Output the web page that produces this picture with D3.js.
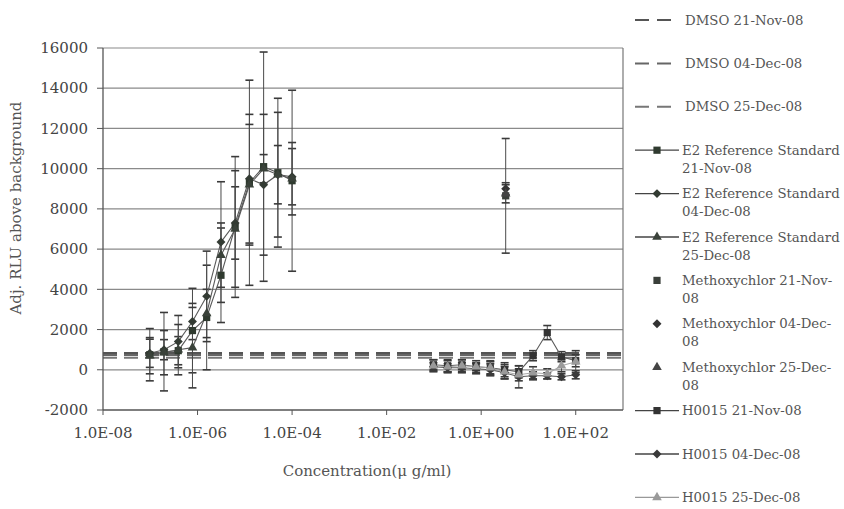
<!DOCTYPE html>
<html>
<head>
<meta charset="utf-8">
<style>
    body { margin: 0; background: #fff; }
    svg { display: block; font-family: 'DejaVu Serif', serif; }
    .tick-label { font-size: 15px; fill: #444; }
    .axis-title { font-size: 15px; fill: #555; }
    .legend-text { font-size: 13.3px; fill: #555; }
</style>
</head>
<body>
<svg width="844" height="509"></svg>

<script src="https://d3js.org/d3.v7.min.js"></script>
<script>
    // ---- data ----
    let xTickValues = [1e-8, 1e-6, 1e-4, 1e-2, 1, 1e2];
    let xTickLabels = ["1.0E-08", "1.0E-06", "1.0E-04", "1.0E-02", "1.0E+00", "1.0E+02"];
    let yTickValues = [-2000, 0, 2000, 4000, 6000, 8000, 10000, 12000, 14000, 16000];
    let yTickLabels = ["-2000", "0", "2000", "4000", "6000", "8000", "10000", "12000", "14000", "16000"];

    // DMSO control levels (flat dashed lines)
    let dmsoNames = ["DMSO 21-Nov-08", "DMSO 04-Dec-08", "DMSO 25-Dec-08"];
    let dmsoValues = [830, 740, 600];

    // E2 reference standard, 2-fold dilutions
    let e2Conc = [9.77e-8, 1.95e-7, 3.91e-7, 7.81e-7, 1.56e-6, 3.13e-6, 6.25e-6, 1.25e-5, 2.5e-5, 5e-5, 1e-4];
    let e2Nov = [750, 900, 950, 1950, 2600, 4700, 7100, 9300, 10100, 9800, 9400];
    let e2NovSd = [1300, 1950, 700, 2100, 2600, 2350, 3500, 5100, 5700, 3700, 4500];
    let e2Dec04 = [820, 1000, 1400, 2400, 3650, 6350, 7300, 9500, 9200, 9700, 9600];
    let e2Dec04Sd = [700, 500, 1300, 900, 2250, 3000, 1800, 3200, 3500, 3100, 1400];
    let e2Dec25 = [700, 850, 1000, 1100, 2800, 5700, 7000, 9200, 10000, 9700, 9500];
    let e2Dec25Sd = [900, 1100, 1250, 2000, 1200, 1600, 2900, 3000, 700, 1450, 1800];

    // Methoxychlor, single concentration
    let mxcConc = [3.3];
    let mxcNov = [8650];
    let mxcNovSd = [2850];
    let mxcDec04 = [9000];
    let mxcDec04Sd = [300];
    let mxcDec25 = [8750];
    let mxcDec25Sd = [450];

    // H0015, 2-fold dilutions
    let hConc = [0.0977, 0.195, 0.391, 0.781, 1.56, 3.13, 6.25, 12.5, 25, 50, 100];
    let hNov = [250, 200, 250, 150, 100, 0, -100, 700, 1850, 650, 450];
    let hNovSd = [250, 300, 250, 200, 300, 350, 300, 250, 350, 250, 300];
    let hDec04 = [150, 100, 100, 50, 0, -150, -350, -300, -300, -350, -250];
    let hDec04Sd = [200, 200, 250, 250, 300, 300, 550, 200, 150, 150, 200];
    let hDec25 = [200, 150, 200, 150, 100, -100, -250, -150, -200, 200, 400];
    let hDec25Sd = [300, 300, 300, 300, 350, 350, 300, 300, 250, 300, 550];

    // rhombus-like diamond (square turned 45 degrees)
    let diamond = {
        draw(ctx, size) {
            let r = Math.sqrt(size / 2);
            ctx.moveTo(0, -r); ctx.lineTo(r, 0); ctx.lineTo(0, r); ctx.lineTo(-r, 0); ctx.closePath();
        }
    };

    let series = [
        { name: "E2 Reference Standard\n21-Nov-08", conc: e2Conc, val: e2Nov, sd: e2NovSd, sym: d3.symbolSquare, size: 52, color: "#2f3a2f", line: true },
        { name: "E2 Reference Standard\n04-Dec-08", conc: e2Conc, val: e2Dec04, sd: e2Dec04Sd, sym: diamond, size: 40, color: "#333b33", line: true },
        { name: "E2 Reference Standard\n25-Dec-08", conc: e2Conc, val: e2Dec25, sd: e2Dec25Sd, sym: d3.symbolTriangle, size: 40, color: "#3a423a", line: true },
        { name: "Methoxychlor 21-Nov-\n08", conc: mxcConc, val: mxcNov, sd: mxcNovSd, sym: d3.symbolSquare, size: 52, color: "#3a3f3a", line: false },
        { name: "Methoxychlor 04-Dec-\n08", conc: mxcConc, val: mxcDec04, sd: mxcDec04Sd, sym: diamond, size: 40, color: "#333", line: false },
        { name: "Methoxychlor 25-Dec-\n08", conc: mxcConc, val: mxcDec25, sd: mxcDec25Sd, sym: d3.symbolTriangle, size: 40, color: "#444", line: false },
        { name: "H0015 21-Nov-08", conc: hConc, val: hNov, sd: hNovSd, sym: d3.symbolSquare, size: 52, color: "#333", line: true },
        { name: "H0015 04-Dec-08", conc: hConc, val: hDec04, sd: hDec04Sd, sym: diamond, size: 40, color: "#3a3a3a", line: true },
        { name: "H0015 25-Dec-08", conc: hConc, val: hDec25, sd: hDec25Sd, sym: d3.symbolTriangle, size: 40, color: "#9a9a9a", line: true }
    ];

    // ---- layout ----
    let svg = d3.select("svg");
    let plotLeft = 103, plotRight = 623, plotTop = 48, plotBottom = 410;

    let x = d3.scaleLog().domain([1e-8, 1e3]).range([plotLeft, plotRight]);
    let y = d3.scaleLinear().domain([-2000, 16000]).range([plotBottom, plotTop]);

    // gridlines
    svg.append("g")
        .selectAll("line")
        .data(yTickValues.slice(1))
        .join("line")
        .attr("x1", plotLeft).attr("x2", plotRight)
        .attr("y1", d => y(d)).attr("y2", d => y(d))
        .style("stroke", "#8a8a8a")
        .style("stroke-width", 1.2);

    // right border
    svg.append("line")
        .attr("x1", plotRight).attr("x2", plotRight)
        .attr("y1", plotTop).attr("y2", plotBottom)
        .style("stroke", "#777")
        .style("stroke-width", 1.2);

    // DMSO lines
    let dmsoColors = ["#555", "#666", "#777"];
    svg.append("g")
        .selectAll("line")
        .data(dmsoValues)
        .join("line")
        .attr("x1", plotLeft).attr("x2", plotRight)
        .attr("y1", d => y(d)).attr("y2", d => y(d))
        .style("stroke", (d, i) => dmsoColors[i])
        .style("stroke-width", 2)
        .style("stroke-dasharray", "14,7");

    // error bars
    let errG = svg.append("g");
    series.forEach(s => {
        s.conc.forEach((c, i) => {
            let cx = x(c);
            let hi = y(s.val[i] + s.sd[i]);
            let lo = y(s.val[i] - s.sd[i]);
            errG.append("line")
                .attr("x1", cx).attr("x2", cx).attr("y1", hi).attr("y2", lo)
                .style("stroke", "#4a4a4a").style("stroke-width", 1);
            [hi, lo].forEach(yy => {
                errG.append("line")
                    .attr("x1", cx - 4).attr("x2", cx + 4).attr("y1", yy).attr("y2", yy)
                    .style("stroke", "#3a3a3a").style("stroke-width", 1.6);
            });
        });
    });

    // connecting lines
    let lineGen = d3.line().x(d => x(d[0])).y(d => y(d[1]));
    series.filter(s => s.line).forEach(s => {
        svg.append("path")
            .attr("d", lineGen(s.conc.map((c, i) => [c, s.val[i]])))
            .style("fill", "none")
            .style("stroke", s.color === "#9a9a9a" ? "#aaa" : "#5a5a5a")
            .style("stroke-width", 1.1);
    });

    // markers
    series.forEach(s => {
        svg.append("g")
            .selectAll("path")
            .data(s.conc.map((c, i) => [c, s.val[i]]))
            .join("path")
            .attr("d", d3.symbol().type(s.sym).size(s.size))
            .attr("transform", d => `translate(${x(d[0])},${y(d[1])})`)
            .style("fill", s.color);
    });

    // y axis
    svg.append("line")
        .attr("x1", plotLeft).attr("x2", plotLeft)
        .attr("y1", plotTop).attr("y2", plotBottom)
        .style("stroke", "#555").style("stroke-width", 1.3);
    svg.append("g")
        .selectAll("line")
        .data(yTickValues)
        .join("line")
        .attr("x1", plotLeft - 6).attr("x2", plotLeft)
        .attr("y1", d => y(d)).attr("y2", d => y(d))
        .style("stroke", "#555");
    svg.append("g")
        .selectAll("text")
        .data(yTickValues)
        .join("text")
        .attr("class", "tick-label")
        .attr("x", plotLeft - 15)
        .attr("y", d => y(d))
        .attr("dy", "0.35em")
        .attr("text-anchor", "end")
        .text((d, i) => yTickLabels[i]);

    // x axis
    svg.append("line")
        .attr("x1", plotLeft).attr("x2", plotRight)
        .attr("y1", plotBottom).attr("y2", plotBottom)
        .style("stroke", "#555").style("stroke-width", 1.3);
    svg.append("g")
        .selectAll("line")
        .data(xTickValues)
        .join("line")
        .attr("x1", d => x(d)).attr("x2", d => x(d))
        .attr("y1", plotBottom).attr("y2", plotBottom + 5)
        .style("stroke", "#555");
    svg.append("g")
        .selectAll("text")
        .data(xTickValues)
        .join("text")
        .attr("class", "tick-label")
        .attr("x", d => x(d))
        .attr("y", plotBottom + 28)
        .attr("text-anchor", "middle")
        .text((d, i) => xTickLabels[i]);

    // axis titles
    svg.append("text")
        .attr("class", "axis-title")
        .attr("transform", "translate(21,208) rotate(-90)")
        .attr("text-anchor", "middle")
        .text("Adj. RLU above background");

    svg.append("text")
        .attr("class", "axis-title")
        .attr("x", 367)
        .attr("y", 476)
        .attr("text-anchor", "middle")
        .text("Concentration(\u03bc g/ml)");

    // legend
    let legendItems = dmsoNames.map((n, i) => ({ name: n, dmso: true, color: dmsoColors[i] }))
        .concat(series.map(s => ({ name: s.name, dmso: false, s: s })));

    let legend = svg.append("g");
    legendItems.forEach((item, i) => {
        let ly = 20 + i * 43.4;
        let g = legend.append("g").attr("transform", `translate(0,${ly})`);
        if (item.dmso) {
            g.append("line")
                .attr("x1", 635).attr("x2", 672).attr("y1", 0).attr("y2", 0)
                .style("stroke", item.color).style("stroke-width", 2)
                .style("stroke-dasharray", "14,8");
        } else {
            if (item.s.line) {
                g.append("line")
                    .attr("x1", 635).attr("x2", 679).attr("y1", 0).attr("y2", 0)
                    .style("stroke", item.s.color === "#9a9a9a" ? "#999" : "#444")
                    .style("stroke-width", 1.3);
            }
            g.append("path")
                .attr("d", d3.symbol().type(item.s.sym).size(item.s.size))
                .attr("transform", "translate(657,0)")
                .style("fill", item.s.color);
        }
        let lines = item.name.split("\n");
        let tx = item.dmso ? 685 : 682;
        let t = g.append("text")
            .attr("class", "legend-text")
            .attr("x", tx)
            .attr("y", 0);
        lines.forEach((ln, k) => {
            t.append("tspan")
                .attr("x", tx)
                .attr("dy", k === 0 ? "0.35em" : "18px")
                .text(ln);
        });
    });
</script>
</body>
</html>
